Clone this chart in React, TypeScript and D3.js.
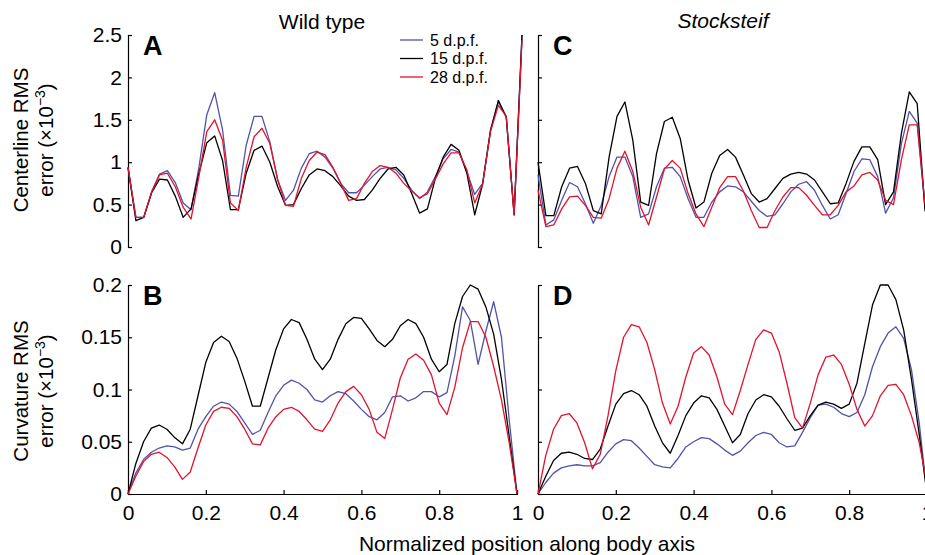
import { useEffect, useRef } from "react";
import * as d3 from "d3";

// normalized position along body axis (51 samples)
const positions = d3.range(51).map((i) => i / 50);

// Wild type, centerline RMS error (x10^-3)
const wtCenter5 = [
  0.94, 0.35, 0.35, 0.65, 0.86, 0.9, 0.76, 0.52, 0.44, 0.94,
  1.56, 1.82, 1.38, 0.61, 0.6, 1.2, 1.54, 1.54, 1.24, 0.79,
  0.55, 0.67, 0.93, 1.1, 1.13, 1.06, 0.93, 0.75, 0.64, 0.64,
  0.73, 0.83, 0.92, 0.94, 0.91, 0.81, 0.67, 0.57, 0.65, 0.83,
  1.04, 1.15, 1.12, 0.89, 0.62, 0.75, 1.38, 1.71, 1.54, 0.38, 2.5,
];
const wtCenter15 = [
  0.94, 0.31, 0.35, 0.64, 0.8, 0.79, 0.6, 0.35, 0.45, 0.87,
  1.23, 1.31, 1.02, 0.44, 0.44, 0.87, 1.14, 1.19, 1.0, 0.71,
  0.49, 0.5, 0.69, 0.85, 0.92, 0.9, 0.83, 0.72, 0.6, 0.55,
  0.56, 0.67, 0.81, 0.92, 0.94, 0.85, 0.63, 0.4, 0.45, 0.81,
  1.06, 1.21, 1.14, 0.87, 0.38, 0.74, 1.37, 1.73, 1.53, 0.38, 2.5,
];
const wtCenter28 = [
  0.94, 0.35, 0.35, 0.65, 0.85, 0.87, 0.71, 0.47, 0.33, 0.83,
  1.36, 1.5, 1.26, 0.52, 0.43, 0.94, 1.3, 1.4, 1.22, 0.79,
  0.49, 0.48, 0.81, 1.02, 1.12, 1.09, 0.94, 0.75, 0.55, 0.57,
  0.75, 0.89, 0.96, 0.94, 0.87, 0.75, 0.66, 0.58, 0.63, 0.8,
  0.98, 1.11, 1.11, 0.91, 0.52, 0.74, 1.36, 1.67, 1.54, 0.38, 2.44,
];

// Stocksteif, centerline RMS error (last sample falls outside the frame)
const stCenter5 = [
  0.85, 0.26, 0.32, 0.55, 0.76, 0.71, 0.51, 0.28, 0.49, 0.83,
  1.06, 1.06, 0.83, 0.35, 0.39, 0.71, 0.93, 0.94, 0.83, 0.57,
  0.35, 0.35, 0.53, 0.65, 0.72, 0.71, 0.65, 0.54, 0.43, 0.36,
  0.38, 0.51, 0.65, 0.74, 0.77, 0.67, 0.49, 0.33, 0.38, 0.63,
  0.89, 1.04, 1.03, 0.83, 0.4, 0.58, 1.22, 1.6, 1.46, 0.45,
];
const stCenter15 = [
  1.0, 0.37, 0.37, 0.71, 0.93, 0.95, 0.75, 0.43, 0.39, 1.06,
  1.54, 1.71, 1.26, 0.53, 0.49, 1.1, 1.48, 1.53, 1.28, 0.79,
  0.46, 0.53, 0.87, 1.08, 1.15, 1.06, 0.85, 0.63, 0.53, 0.57,
  0.69, 0.81, 0.86, 0.88, 0.86, 0.79, 0.65, 0.51, 0.52, 0.75,
  1.01, 1.18, 1.18, 1.03, 0.5, 0.65, 1.34, 1.83, 1.69, 0.42,
];
const stCenter28 = [
  0.67, 0.24, 0.26, 0.45, 0.59, 0.6, 0.49, 0.35, 0.34, 0.57,
  0.93, 1.13, 0.89, 0.47, 0.26, 0.59, 0.92, 1.02, 0.93, 0.63,
  0.39, 0.24, 0.47, 0.7, 0.83, 0.83, 0.66, 0.43, 0.23, 0.23,
  0.43, 0.59, 0.7, 0.7, 0.61, 0.49, 0.38, 0.38, 0.49, 0.65,
  0.72, 0.85, 0.88, 0.79, 0.55, 0.5, 1.03, 1.44, 1.44, 0.5,
];

// Wild type, curvature RMS error
const wtCurv5 = [
  0, 0.02, 0.033, 0.04, 0.044, 0.046, 0.045, 0.042, 0.044, 0.062,
  0.074, 0.084, 0.088, 0.086, 0.079, 0.068, 0.057, 0.061, 0.078, 0.094,
  0.104, 0.109, 0.106, 0.1, 0.09, 0.088, 0.094, 0.098, 0.096, 0.089,
  0.081, 0.074, 0.071, 0.078, 0.093, 0.094, 0.089, 0.092, 0.098, 0.098,
  0.093, 0.097, 0.132, 0.179, 0.166, 0.124, 0.156, 0.184, 0.15, 0.071, 0,
];
const wtCurv15 = [
  0, 0.029, 0.05, 0.063, 0.066, 0.062, 0.054, 0.048, 0.062, 0.094,
  0.126, 0.145, 0.151, 0.146, 0.13, 0.108, 0.084, 0.084, 0.111, 0.138,
  0.158, 0.167, 0.164, 0.148, 0.129, 0.119, 0.129, 0.148, 0.163, 0.169,
  0.168, 0.158, 0.147, 0.141, 0.148, 0.161, 0.167, 0.163, 0.15, 0.129,
  0.117, 0.124, 0.163, 0.189, 0.2, 0.196, 0.179, 0.153, 0.11, 0.055, 0,
];
const wtCurv28 = [
  0, 0.017, 0.031, 0.038, 0.04, 0.035, 0.026, 0.014, 0.021, 0.044,
  0.066, 0.079, 0.083, 0.082, 0.074, 0.062, 0.048, 0.047, 0.063, 0.074,
  0.081, 0.083, 0.079, 0.071, 0.062, 0.06, 0.071, 0.087, 0.098, 0.103,
  0.095, 0.081, 0.059, 0.053, 0.081, 0.111, 0.129, 0.134, 0.128, 0.114,
  0.087, 0.076, 0.102, 0.14, 0.165, 0.165, 0.15, 0.122, 0.09, 0.049, 0,
];

// Stocksteif, curvature RMS error
const stCurv5 = [
  0, 0.011, 0.02, 0.025, 0.027, 0.028, 0.027, 0.027, 0.03, 0.04,
  0.048, 0.052, 0.051, 0.044, 0.036, 0.028, 0.026, 0.025, 0.034, 0.045,
  0.05, 0.054, 0.053, 0.048, 0.042, 0.037, 0.041, 0.049, 0.056, 0.059,
  0.057, 0.049, 0.045, 0.046, 0.059, 0.073, 0.085, 0.086, 0.083, 0.077,
  0.074, 0.078, 0.095, 0.122, 0.141, 0.154, 0.16, 0.149, 0.119, 0.068, 0,
];
const stCurv15 = [
  0, 0.017, 0.032, 0.039, 0.04, 0.038, 0.034, 0.033, 0.043, 0.065,
  0.086, 0.096, 0.099, 0.095, 0.084, 0.065, 0.049, 0.039, 0.056, 0.075,
  0.087, 0.094, 0.092, 0.081, 0.065, 0.049, 0.057, 0.077, 0.09, 0.095,
  0.093, 0.084, 0.072, 0.061, 0.063, 0.075, 0.085, 0.088, 0.086, 0.082,
  0.086, 0.106, 0.144, 0.181, 0.2, 0.2, 0.186, 0.157, 0.11, 0.057, 0,
];
const stCurv28 = [
  0, 0.037, 0.062, 0.075, 0.077, 0.068, 0.049, 0.024, 0.038, 0.075,
  0.118, 0.15, 0.162, 0.16, 0.145, 0.119, 0.087, 0.067, 0.084, 0.112,
  0.135, 0.141, 0.133, 0.112, 0.086, 0.076, 0.099, 0.124, 0.148, 0.157,
  0.154, 0.136, 0.106, 0.073, 0.063, 0.087, 0.114, 0.131, 0.133, 0.124,
  0.105, 0.081, 0.065, 0.075, 0.094, 0.104, 0.105, 0.095, 0.075, 0.049, 0.01,
];

const seriesNames = ["5 d.p.f.", "15 d.p.f.", "28 d.p.f."];
const seriesColors = ["#5252a8", "#000000", "#e3122d"];
const centerTicks = [0, 0.5, 1, 1.5, 2, 2.5];
const curvTicks = [0, 0.05, 0.1, 0.15, 0.2];
const xTicks = [0, 0.2, 0.4, 0.6, 0.8, 1];

const FONT = "'Liberation Sans', Arial, Helvetica, sans-serif";

export default function App() {
  const svgRef = useRef<SVGSVGElement>(null);

  useEffect(() => {
    const svg = d3.select(svgRef.current);
    svg.selectAll("*").remove();
    svg.style("font-family", FONT);

    const panels = [
      { letter: "A", series: [wtCenter5, wtCenter15, wtCenter28], xr: [128, 522], yr: [247, 35], dom: [0, 2.5], ticks: centerTicks, labels: true, xAxis: false },
      { letter: "C", series: [stCenter5, stCenter15, stCenter28], xr: [538, 933], yr: [247, 35], dom: [0, 2.5], ticks: centerTicks, labels: false, xAxis: false },
      { letter: "B", series: [wtCurv5, wtCurv15, wtCurv28], xr: [128, 517], yr: [494, 285], dom: [0, 0.2], ticks: curvTicks, labels: true, xAxis: true },
      { letter: "D", series: [stCurv5, stCurv15, stCurv28], xr: [538, 927], yr: [494, 285], dom: [0, 0.2], ticks: curvTicks, labels: false, xAxis: true },
    ];

    panels.forEach((p) => {
      const x = d3.scaleLinear().domain([0, 1]).range(p.xr);
      const y = d3.scaleLinear().domain(p.dom).range(p.yr);
      const g = svg.append("g");

      const yAxis = d3.axisLeft(y)
        .tickValues(p.ticks)
        .tickSizeInner(-4)
        .tickSizeOuter(-4)
        .tickPadding(6)
        .tickFormat((d) => (p.labels ? String(d) : ""));
      const ya = g.append("g")
        .attr("transform", `translate(${p.xr[0]},0)`)
        .call(yAxis)
        .attr("font-size", 21)
        .attr("font-family", FONT);
      ya.selectAll("path, line").attr("stroke-width", 1.2);

      if (p.xAxis) {
        const xAxis = d3.axisBottom(x)
          .tickValues(xTicks)
          .tickSizeInner(-4)
          .tickSizeOuter(-4)
          .tickPadding(11)
          .tickFormat((d) => String(d));
        const xa = g.append("g")
          .attr("transform", `translate(0,${p.yr[0]})`)
          .call(xAxis)
          .attr("font-size", 21)
          .attr("font-family", FONT);
        xa.selectAll("path, line").attr("stroke-width", 1.2);
      }

      const line = d3.line<number>()
        .x((d, i) => x(positions[i]))
        .y((d) => y(d));

      p.series.forEach((s, k) => {
        g.append("path")
          .attr("d", line(s))
          .attr("fill", "none")
          .attr("stroke", seriesColors[k])
          .attr("stroke-width", 1.3)
          .attr("stroke-linejoin", "round");
      });

      g.append("text")
        .attr("x", p.xr[0] + 15)
        .attr("y", p.yr[1] + 20)
        .attr("font-size", 27)
        .attr("font-weight", "bold")
        .text(p.letter);
    });

    // column titles
    svg.append("text")
      .attr("x", 322).attr("y", 29)
      .attr("text-anchor", "middle")
      .attr("font-size", 21)
      .text("Wild type");
    svg.append("text")
      .attr("x", 723).attr("y", 28)
      .attr("text-anchor", "middle")
      .attr("font-size", 21)
      .attr("font-style", "italic")
      .text("Stocksteif");

    // legend
    const legend = svg.append("g").attr("transform", "translate(400,40)");
    seriesNames.forEach((name, i) => {
      legend.append("line")
        .attr("x1", 0).attr("x2", 23)
        .attr("y1", i * 18.5).attr("y2", i * 18.5)
        .attr("stroke", seriesColors[i])
        .attr("stroke-width", 1.3);
      legend.append("text")
        .attr("x", 30).attr("y", i * 18.5)
        .attr("dy", "0.36em")
        .attr("font-size", 16)
        .text(name);
    });

    // y axis titles
    const yTitle = (cy: number, first: string) => {
      const t = svg.append("g").attr("transform", `translate(0,${cy}) rotate(-90)`);
      t.append("text")
        .attr("x", 0).attr("y", 28)
        .attr("text-anchor", "middle")
        .attr("font-size", 20.5)
        .text(first);
      const t2 = t.append("text")
        .attr("x", 0).attr("y", 53)
        .attr("text-anchor", "middle")
        .attr("font-size", 20.5);
      t2.append("tspan").text("error (\u00d710");
      t2.append("tspan").attr("dy", -8).attr("font-size", 14).text("\u22123");
      t2.append("tspan").attr("dy", 8).text(")");
    };
    yTitle(140, "Centerline RMS");
    yTitle(391, "Curvature RMS");

    svg.append("text")
      .attr("x", 527).attr("y", 551)
      .attr("text-anchor", "middle")
      .attr("font-size", 21)
      .text("Normalized position along body axis");
  }, []);

  return (
    <svg
      ref={svgRef}
      width={925}
      height={555}
      style={{ position: "absolute", left: 0, top: 0, background: "#fff" }}
    />
  );
}
